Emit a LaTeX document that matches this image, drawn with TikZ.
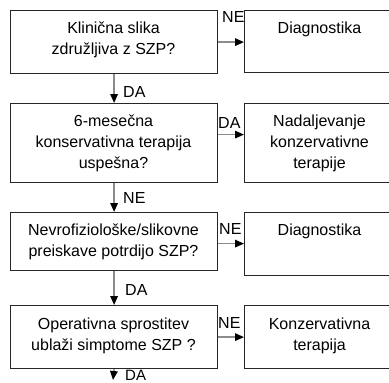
\documentclass[tikz,border=0pt]{standalone}
\usepackage{fontspec}
\setmainfont{Liberation Sans}
\usetikzlibrary{arrows.meta,calc}
\begin{document}
\begin{tikzpicture}[x=1pt,y=-1pt,
  box/.style={draw=black!85,line width=1.2pt,rectangle,inner sep=0pt,anchor=north west},
  txt/.style={font=\fontsize{16}{21}\selectfont,align=center,inner sep=0pt,anchor=base},
  lbl/.style={font=\fontsize{16}{19}\selectfont,inner sep=0pt,anchor=base west},
  arr/.style={draw=black!45,line width=1.5pt,-{Triangle[length=9pt,width=7.5pt,black]}}]
\useasboundingbox (0,0) rectangle (389,383);
% left column
\node[box,minimum width=207pt,minimum height=63pt] (b1) at (10,10) {};
\node[box,minimum width=207pt,minimum height=79pt] (b2) at (10,103) {};
\node[box,minimum width=207pt,minimum height=58pt] (b3) at (10,212) {};
\node[box,minimum width=207pt,minimum height=63pt] (b4) at (10,305) {};
% right column
\node[box,minimum width=151pt,minimum height=62pt] (r1) at (244,10) {};
\node[box,minimum width=151pt,minimum height=79pt] (r2) at (244,103) {};
\node[box,minimum width=151pt,minimum height=63pt] (r3) at (244,212) {};
\node[box,minimum width=151pt,minimum height=63pt] (r4) at (244,305) {};
% texts (anchor = baseline of last line)
\node[txt] (t1) at (113.5,54) {Klinična slika\\združljiva z SZP?};
\node[txt] (t2) at (113.5,168) {6-mesečna\\konservativna terapija\\uspešna?};
\node[txt] (t3) at (113.5,256) {Nevrofiziološke/slikovne\\preiskave potrdijo SZP?};
\node[txt] (t4) at (113.5,350) {Operativna sprostitev\\ublaži simptome SZP ?};
\node[txt] (s1) at (319.5,33) {Diagnostika};
\node[txt] (s2) at (319.5,168) {Nadaljevanje\\konzervativne\\terapije};
\node[txt] (s3) at (319.5,235) {Diagnostika};
\node[txt] (s4) at (319.5,350) {Konzervativna\\terapija};
% horizontal arrows
\draw[arr] (b1.east) -- (b1.east -| r1.west);
\draw[arr] ([yshift=8.5pt]b2.east) -- ([yshift=8.5pt]b2.east -| r2.west);
\draw[arr] ([yshift=-2pt]b3.east) -- ([yshift=-2pt]b3.east -| r3.west);
\draw[arr] (b4.east) -- (b4.east -| r4.west);
% vertical arrows
\coordinate (end) at (113,380);
\draw[arr] (b1.south) -- (b2.north);
\draw[arr] (b2.south) -- (b3.north);
\draw[arr] (b3.south) -- (b4.north);
\draw[arr] (b4.south) -- (end);
% labels
\node[lbl] (l1) at (222,22) {NE};
\node[lbl] (l2) at (218,128) {DA};
\node[lbl] (l3) at (219,234) {NE};
\node[lbl] (l4) at (218,328) {NE};
\node[lbl] (v1) at (123,97) {DA};
\node[lbl] (v2) at (123,203) {NE};
\node[lbl] (v3) at (125,295) {DA};
\node[lbl,font=\fontsize{15}{18}\selectfont] (v4) at (125,380) {DA};
\end{tikzpicture}
\end{document}
